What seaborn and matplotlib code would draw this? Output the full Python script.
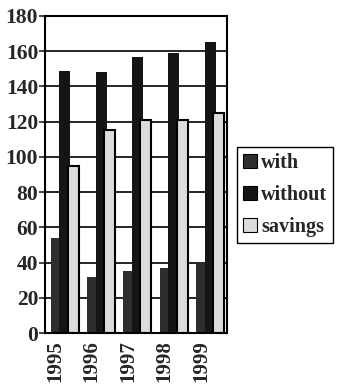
import numpy as np
import pandas as pd
import matplotlib
matplotlib.use('Agg')
import matplotlib.pyplot as plt
import seaborn as sns
from matplotlib.patches import Patch

years = ['1995', '1996', '1997', '1998', '1999']
with_vals = [54, 32, 35, 37, 39]
without_vals = [149, 148, 157, 159, 165]
savings_vals = [95, 115, 121, 121, 125]
series = ['with', 'without', 'savings']
colors = ['#2e2e2e', '#151515', '#dcdcdc']

df = pd.DataFrame({
    'year': years * 3,
    'value': with_vals + without_vals + savings_vals,
    'series': ['with'] * 5 + ['without'] * 5 + ['savings'] * 5,
})

sns.set_style('white')
plt.rcParams['font.family'] = ['Liberation Serif', 'DejaVu Serif']
plt.rcParams['font.weight'] = 'bold'

fig = plt.figure(figsize=(3.37, 3.90), dpi=100)
ax = fig.add_axes([0.134, 0.146, 0.540, 0.813])

ax.yaxis.grid(True, color='black', linewidth=1.2)
ax.set_axisbelow(True)

sns.barplot(data=df, x='year', y='value', hue='series', hue_order=series,
            palette=colors, width=0.7, dodge=True, saturation=1, ax=ax,
            legend=False)

# widen the bars so they overlap a bit, like the original
for p in ax.patches:
    p.set_width(p.get_width() * 1.3)
    fc = p.get_facecolor()
    if fc[0] > 0.5:
        p.set_edgecolor('black')
        p.set_linewidth(1.5)
    else:
        p.set_edgecolor('none')

ax.set_ylim(0, 180)
ax.set_yticks(range(0, 181, 20))
ax.set_xlim(-0.5, 4.5)
ax.set_xticks(np.arange(5) - 0.22)
ax.set_xticklabels(years, rotation=90, fontsize=15, fontweight='bold')
ax.tick_params(axis='y', labelsize=15.5, length=4, width=1.2, direction='out',
               left=True, pad=1)
ax.tick_params(axis='x', length=0, pad=5)
for lab in ax.get_yticklabels():
    lab.set_fontweight('bold')
ax.set_xlabel('')
ax.set_ylabel('')
for s in ax.spines.values():
    s.set_color('black')
    s.set_linewidth(1.5)
    s.set_visible(True)

handles = [Patch(facecolor=c, edgecolor='black', linewidth=0.8) for c in colors]
fig.legend(handles, series, loc='upper left', bbox_to_anchor=(0.703, 0.623),
           prop={'weight': 'bold', 'size': 14.5},
           frameon=True, edgecolor='black', fancybox=False, framealpha=1,
           handlelength=0.7, handleheight=0.7, handletextpad=0.2,
           labelspacing=0.6, borderpad=0.3, borderaxespad=0)

fig.savefig('out.png', dpi=100)
